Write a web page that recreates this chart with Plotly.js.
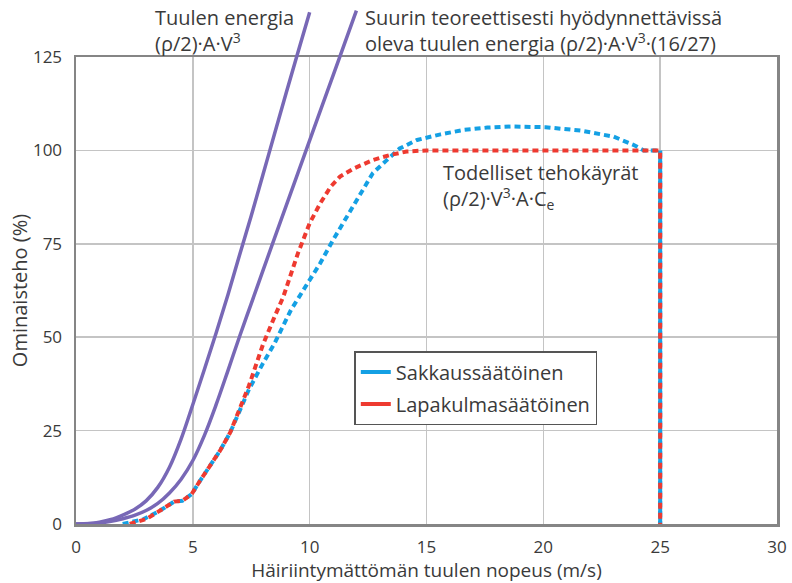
<!DOCTYPE html>
<html><head><meta charset="utf-8">
<script src="https://cdn.plot.ly/plotly-3.0.1.min.js"></script>
<style>html,body{margin:0;padding:0;background:#fff}</style>
</head><body><div id="chart" style="width:792px;height:583px"></div>
<script>
// Wind power (rho/2)·A·V^3
const windX = [0, 0.5, 1, 1.5, 2, 2.5, 3, 3.5, 4, 4.5, 5, 5.5, 6, 6.5, 7, 7.5, 8, 8.5, 9, 9.5, 10];
const windY = [0, 0.1, 0.5, 1.2, 2.4, 3.9, 6.2, 9.8, 15.2, 22.8, 32, 41.5, 51.2, 61.3, 72, 82.5, 93.5, 104.5, 115.5, 126.3, 137];
// Betz limit (16/27)
const betzX = [0, 1, 1.5, 2, 2.5, 3, 3.5, 4, 4.5, 5, 5.5, 6, 6.5, 7, 7.5, 8, 8.5, 9, 9.5, 10, 10.5, 11, 11.5, 12];
const betzY = [0, 0.3, 0.7, 1.4, 2.3, 3.6, 5.5, 8.3, 12, 17, 23.8, 32, 41, 50.2, 59, 67.8, 76.6, 85.3, 94, 102.7, 111.4, 120, 128.7, 137.4];
// Stall regulated
const stallX = [2.0, 2.9, 3.6, 4.2, 4.55, 4.95, 5.3, 5.75, 6.15, 6.6, 7.0, 7.4, 8.0, 8.5, 9.2, 9.9, 10.45, 11.0, 11.6, 12.15, 12.7, 13.3, 13.85, 14.6, 15.6, 16.6, 17.6, 18.7, 20.1, 21.6, 23.0, 23.85, 24.3, 25, 25];
const stallY = [0, 1.3, 3.6, 6.0, 6.2, 8, 11.5, 15.5, 19.5, 24.5, 30.5, 36, 43, 48.4, 57.3, 64.4, 69.8, 76, 82.3, 88.5, 93.9, 97.4, 100.5, 102.8, 104.3, 105.5, 106.1, 106.4, 106.2, 105.3, 103.7, 101.5, 100, 100, 0];
// Pitch regulated
const pitchX = [2.3, 3.0, 3.6, 4.2, 4.55, 4.95, 5.3, 5.75, 6.15, 6.6, 7.0, 7.4, 7.7, 8.0, 8.5, 8.87, 9.5, 10.0, 10.45, 10.9, 11.3, 11.9, 12.7, 13.45, 14.15, 15, 25, 25];
const pitchY = [0, 1.3, 3.6, 6.0, 6.2, 8, 11.5, 15.5, 19.5, 24.5, 30.5, 37, 42.5, 48, 55.5, 60.8, 72.5, 80.5, 85.8, 90.3, 93, 95.2, 97.4, 98.8, 99.7, 100, 100, 0];
const cutOut = 25;
const rated = 100;
const xTicks = [0, 5, 10, 15, 20, 25, 30];
const yTicks = [0, 25, 50, 75, 100, 125];

const FONT = "Open Sans, Noto Sans, sans-serif";
const TXT = "#3a3a3a";
const PURPLE = "rgb(120,104,182)";
const BLUE = "rgb(20,160,228)";
const RED = "rgb(238,58,48)";
const yTop = 125, yFrac = (524 - 57) / 524;
const TS = 20;

const traces = [
  {x: stallX, y: stallY, type: "scatter", mode: "lines", showlegend: false,
   line: {color: BLUE, width: 4, dash: "6px,4px", shape: "linear"}},
  {x: [cutOut, cutOut], y: [0, rated], type: "scatter", mode: "lines", showlegend: false,
   line: {color: BLUE, width: 4}},
  {x: pitchX, y: pitchY, type: "scatter", mode: "lines", showlegend: false,
   line: {color: RED, width: 4, dash: "6px,4px", shape: "linear"}},
  {x: [null], y: [null], type: "scatter", mode: "lines", name: "Sakkaussäätöinen",
   legendgroup: "a", line: {color: BLUE, width: 4}},
  {x: [null], y: [null], type: "scatter", mode: "lines", name: "Lapakulmasäätöinen",
   legendgroup: "b", line: {color: RED, width: 4}},
  {x: windX, y: windY, xaxis: "x2", yaxis: "y2", type: "scatter", mode: "lines", showlegend: false,
   line: {color: PURPLE, width: 3.5, shape: "spline", smoothing: 1}},
  {x: betzX, y: betzY, xaxis: "x2", yaxis: "y2", type: "scatter", mode: "lines", showlegend: false,
   line: {color: PURPLE, width: 3.5, shape: "spline", smoothing: 1}}
];

const layout = {
  width: 792, height: 583,
  margin: {l: 76, r: 15, t: 0, b: 59},
  paper_bgcolor: "#fff", plot_bgcolor: "rgba(0,0,0,0)",
  font: {family: FONT, size: TS, color: TXT},
  xaxis: {range: [0, 30], tickvals: xTicks, domain: [0, 1], anchor: "y",
    showgrid: true, gridcolor: "#c4c4c4", gridwidth: 1.5, zeroline: false,
    showline: true, mirror: true, linecolor: "#858585", linewidth: 2.5, ticks: "",
    ticklabelstandoff: 6, tickfont: {size: 17, color: TXT},
    title: {text: "Häiriintymättömän tuulen nopeus (m/s)", standoff: 2, font: {size: 19, color: TXT}}},
  yaxis: {range: [0, yTop], tickvals: yTicks, domain: [0, yFrac], anchor: "x",
    showgrid: true, gridcolor: "#c4c4c4", gridwidth: 1.5, zeroline: false,
    showline: true, mirror: true, linecolor: "#858585", linewidth: 2.5, ticks: "",
    ticklabelstandoff: 8, tickfont: {size: 17, color: TXT},
    title: {text: "Ominaisteho (%)", standoff: 0, font: {size: TS, color: TXT}}},
  xaxis2: {range: [0, 30], domain: [0, 1], anchor: "y2", visible: false},
  yaxis2: {range: [0, yTop / yFrac], domain: [0, 1], anchor: "x2", visible: false},
  legend: {x: 0.397, y: 0.330, xanchor: "left", yanchor: "top",
    bgcolor: "#fff", bordercolor: "#555", borderwidth: 1.5,
    font: {size: TS, color: TXT}, traceorder: "grouped", tracegroupgap: 3, itemwidth: 30},
  annotations: [
    {xref: "paper", yref: "paper", x: (153 - 76) / 701, y: (524 - 30) / 524,
     xanchor: "left", yanchor: "middle", align: "left", showarrow: false,
     text: "Tuulen energia<br>(ρ/2)·A·V<sup>3</sup>"},
    {xref: "paper", yref: "paper", x: (363 - 76) / 701, y: (524 - 30) / 524,
     xanchor: "left", yanchor: "middle", align: "left", showarrow: false,
     text: "Suurin teoreettisesti hyödynnettävissä<br>oleva tuulen energia (ρ/2)·A·V<sup>3</sup>·(16/27)"},
    {xref: "paper", yref: "paper", x: (441 - 76) / 701, y: (524 - 186) / 524,
     xanchor: "left", yanchor: "middle", align: "left", showarrow: false,
     text: "Todelliset tehokäyrät<br>(ρ/2)·V<sup>3</sup>·A·C<sub>e</sub>"}
  ]
};

Plotly.newPlot("chart", traces, layout, {displayModeBar: false, staticPlot: true});
</script>
</body></html>
